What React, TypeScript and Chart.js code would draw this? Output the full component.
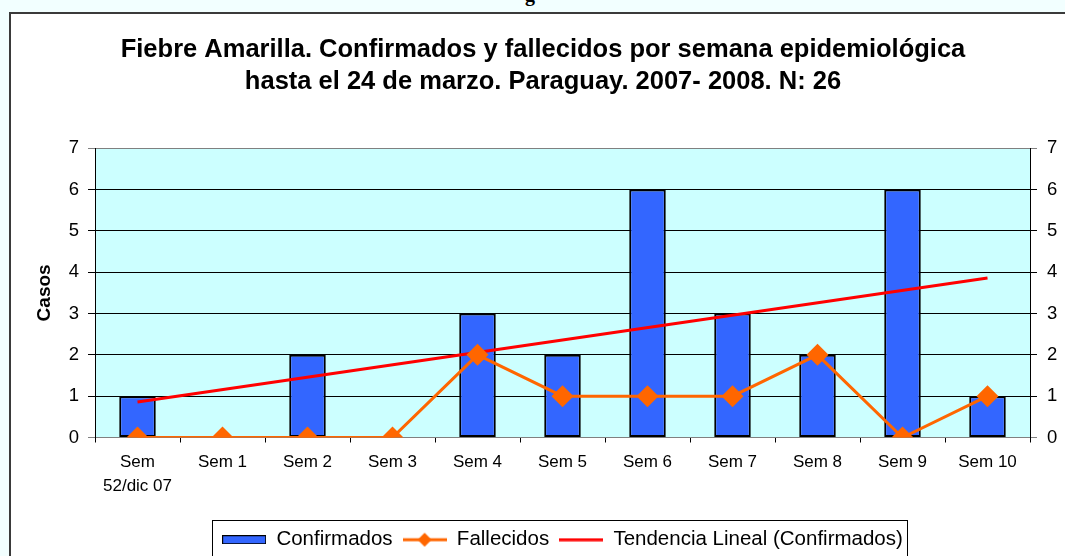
import React, { useEffect, useRef } from "react";
import { Chart, registerables } from "chart.js";

Chart.register(...registerables);

const categories: (string | string[])[] = [
  ["Sem", "52/dic 07"],
  "Sem 1",
  "Sem 2",
  "Sem 3",
  "Sem 4",
  "Sem 5",
  "Sem 6",
  "Sem 7",
  "Sem 8",
  "Sem 9",
  "Sem 10",
];
const confirmados = [1, 0, 2, 0, 3, 2, 6, 3, 2, 6, 1];
const fallecidos = [0, 0, 0, 0, 2, 1, 1, 1, 2, 0, 1];
// trend line: starts ~0.86 at first week, ends ~3.86 at last week
const tendencia: (number | null)[] = [0.86, null, null, null, null, null, null, null, null, null, 3.86];
const yMin = 0;
const yMax = 7;

const titleLines = [
  "Fiebre Amarilla. Confirmados y fallecidos por semana epidemiológica",
  "hasta el 24 de marzo. Paraguay. 2007- 2008. N: 26",
];
const legendLabels = ["Confirmados", "Fallecidos", "Tendencia Lineal (Confirmados)"];

const FONT = "'Liberation Sans', Arial, Helvetica, sans-serif";
const BLUE = "#3366FF";
const ORANGE = "#FF6600";
const RED = "#FF0000";

function makeSwatch(kind: string): HTMLCanvasElement {
  const c = document.createElement("canvas");
  const w = 44;
  if (kind === "bar") {
    c.width = w;
    c.height = 9;
    const g = c.getContext("2d")!;
    g.fillStyle = BLUE;
    g.fillRect(0.5, 0.5, w - 1, 8);
    g.strokeStyle = "#000";
    g.lineWidth = 1;
    g.strokeRect(0.5, 0.5, w - 1, 8);
  } else if (kind === "diamond") {
    c.width = w;
    c.height = 16;
    const g = c.getContext("2d")!;
    g.strokeStyle = ORANGE;
    g.lineWidth = 3;
    g.beginPath();
    g.moveTo(0, 8);
    g.lineTo(w, 8);
    g.stroke();
    g.fillStyle = ORANGE;
    g.beginPath();
    g.moveTo(w / 2, 1);
    g.lineTo(w / 2 + 7, 8);
    g.lineTo(w / 2, 15);
    g.lineTo(w / 2 - 7, 8);
    g.closePath();
    g.fill();
  } else {
    c.width = w;
    c.height = 4;
    const g = c.getContext("2d")!;
    g.strokeStyle = RED;
    g.lineWidth = 3;
    g.beginPath();
    g.moveTo(0, 2);
    g.lineTo(w, 2);
    g.stroke();
  }
  return c;
}

const plotBg = {
  id: "plotBg",
  beforeDraw(chart: any) {
    const { ctx, chartArea } = chart;
    ctx.save();
    ctx.fillStyle = "#CCFFFF";
    ctx.fillRect(chartArea.left, chartArea.top, chartArea.right - chartArea.left, chartArea.bottom - chartArea.top);
    ctx.restore();
  },
};

const legendBox = {
  id: "legendBox",
  afterDraw(chart: any) {
    const lg = chart.legend;
    if (!lg || !lg.legendHitBoxes || !lg.legendHitBoxes.length) return;
    const boxes = lg.legendHitBoxes;
    let l = Infinity;
    let r = -Infinity;
    for (const b of boxes) {
      l = Math.min(l, b.left);
      r = Math.max(r, b.left + b.width);
    }
    const { ctx } = chart;
    ctx.save();
    ctx.strokeStyle = "#000";
    ctx.lineWidth = 1;
    ctx.strokeRect(Math.round(l - 10) + 0.5, Math.round(lg.top) + 0.5, Math.round(r - l + 14), 60);
    ctx.restore();
  },
};

export default function App() {
  const ref = useRef<HTMLCanvasElement | null>(null);

  useEffect(() => {
    if (!ref.current) return;
    const swatches = [makeSwatch("bar"), makeSwatch("diamond"), makeSwatch("line")];
    const gridColor = (c: any) => (c.tick && (c.tick.value === yMin || c.tick.value === yMax) ? "#808080" : "#000000");
    const chart = new Chart(ref.current, {
      type: "bar",
      data: {
        labels: categories as any,
        datasets: [
          {
            type: "bar",
            label: legendLabels[0],
            data: confirmados,
            backgroundColor: BLUE,
            borderColor: "#000",
            borderWidth: 2,
            borderSkipped: false,
            barPercentage: 0.43,
            categoryPercentage: 1,
            order: 3,
            yAxisID: "y",
          } as any,
          {
            type: "line",
            label: legendLabels[1],
            data: fallecidos,
            borderColor: ORANGE,
            backgroundColor: ORANGE,
            borderWidth: 3,
            pointStyle: "rectRot",
            pointRadius: 11,
            pointBackgroundColor: ORANGE,
            pointBorderColor: ORANGE,
            pointBorderWidth: 0,
            order: 1,
            yAxisID: "y",
          } as any,
          {
            type: "line",
            label: legendLabels[2],
            data: tendencia,
            spanGaps: true,
            borderColor: RED,
            borderWidth: 3,
            pointRadius: 0,
            order: 2,
            yAxisID: "y",
          } as any,
        ],
      },
      options: {
        animation: false,
        responsive: false,
        devicePixelRatio: 1,
        layout: { padding: 0 },
        plugins: {
          tooltip: { enabled: false },
          title: {
            display: true,
            text: titleLines,
            color: "#000",
            font: { family: FONT, size: 25.5, weight: "bold", lineHeight: 1.26 },
            padding: { top: 20, bottom: 50 },
          },
          legend: {
            display: true,
            position: "bottom",
            fullSize: false,
            labels: {
              color: "#000",
              font: { family: FONT, size: 20.5 },
              usePointStyle: true,
              pointStyleWidth: 44,
              padding: 10,
              generateLabels: () =>
                legendLabels.map((t, i) => ({
                  text: t,
                  pointStyle: swatches[i] as any,
                  fillStyle: "transparent",
                  strokeStyle: "transparent",
                  lineWidth: 0,
                  hidden: false,
                  datasetIndex: i,
                  fontColor: "#000",
                })),
            },
          },
        },
        scales: {
          x: {
            offset: true,
            grid: {
              offset: true,
              drawOnChartArea: false,
              drawTicks: true,
              tickLength: 5,
              color: "#000",
            },
            border: { display: true, color: "#808080", width: 1 },
            ticks: {
              color: "#000",
              font: { family: FONT, size: 17, lineHeight: 1.4 },
              padding: 8,
              maxRotation: 0,
              autoSkip: false,
            },
            afterFit: (s: any) => {
              s.height = 82;
            },
          },
          y: {
            position: "left",
            min: yMin,
            max: yMax,
            grid: { color: gridColor, lineWidth: 1, tickLength: 7, drawTicks: true },
            border: { display: true, color: "#000", width: 1 },
            ticks: {
              stepSize: 1,
              color: "#000",
              font: { family: FONT, size: 18.5 },
              padding: 9,
            },
            title: {
              display: true,
              text: "Casos",
              color: "#000",
              font: { family: FONT, size: 19, weight: "bold", lineHeight: 1.2 },
              padding: { top: 22, bottom: 0 },
            },
            afterFit: (s: any) => {
              s.width = 84;
            },
          },
          y2: {
            position: "right",
            min: yMin,
            max: yMax,
            grid: { drawOnChartArea: false, color: gridColor, tickLength: 7, drawTicks: true },
            border: { display: true, color: "#000", width: 1 },
            ticks: {
              stepSize: 1,
              color: "#000",
              font: { family: FONT, size: 18.5 },
              padding: 10,
            },
            afterFit: (s: any) => {
              s.width = 45;
            },
          },
        },
      } as any,
      plugins: [plotBg, legendBox],
    });
    return () => chart.destroy();
  }, []);

  return (
    <div
      style={{
        position: "fixed",
        left: 0,
        top: 0,
        width: 1065,
        height: 556,
        overflow: "hidden",
        background: "#F2FFFF",
      }}
    >
      <div
        style={{
          position: "absolute",
          left: 525,
          top: -16,
          fontFamily: "'Liberation Serif', 'Times New Roman', serif",
          fontWeight: "bold",
          fontSize: 20,
          lineHeight: "20px",
          color: "#000",
        }}
      >
        g
      </div>
      <div
        style={{
          position: "absolute",
          left: 9,
          top: 12,
          width: 1080,
          height: 600,
          boxSizing: "border-box",
          borderTop: "2px solid #3a3a3a",
          borderLeft: "2px solid #3a3a3a",
          background: "#FFFFFF",
        }}
      >
        <canvas ref={ref} width={1064} height={546} style={{ display: "block", width: 1064, height: 546 }} />
      </div>
    </div>
  );
}
